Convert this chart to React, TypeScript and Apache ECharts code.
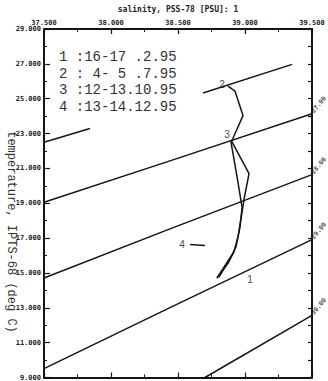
import React, { useEffect, useRef } from "react";
import * as echarts from "echarts";

const xTickLabels = ["37.500", "38.000", "38.500", "39.000", "39.500"];
const yTickLabels = ["9.000", "11.000", "13.000", "15.000", "17.000", "19.000", "21.000", "23.000", "25.000", "27.000", "29.000"];
const titleText = "salinity, PSS-78 [PSU]: 1";
const yName = "temperature, IPTS-68 (deg C)";
const legendLines = ["1 :16-17 .2.95", "2 : 4- 5 .7.95", "3 :12-13.10.95", "4 :13-14.12.95"];

// isopycnals (salinity, temperature)
const sigma26a = [[37.5, 22.5], [37.843, 23.29]];
const sigma26b = [[38.687, 25.33], [39.351, 26.97]];
const sigma27 = [[37.5, 19.06], [38.44, 21.43], [39.5, 24.14]];
const sigma28 = [[37.5, 14.71], [38.44, 17.53], [39.5, 20.64]];
const sigma29 = [[37.5, 9.51], [38.44, 13.01], [39.5, 16.91]];
const sigma30 = [[38.701, 9.0], [39.5, 12.56]];
const sigmaLabels = ["27.00", "28.00", "29.00", "30.00"];

// T-S profiles
const profile2 = [[38.873, 25.72], [38.925, 25.44], [38.985, 24.03], [38.91, 22.73], [38.896, 22.5], [38.948, 20.19], [38.978, 18.77], [38.963, 17.64], [38.933, 16.51], [38.91, 16.12], [38.791, 14.71]];
const profile3 = [[38.896, 22.62], [39.03, 20.7], [38.993, 19.23], [38.978, 18.49], [38.948, 17.08], [38.918, 16.23], [38.806, 14.76]];
const profile1 = [[38.791, 14.71], [38.873, 15.55], [38.918, 16.23]];
const arrow4 = [[38.59, 16.63], [38.701, 16.58]];
const profileMarks = [
  { name: "2", value: [38.828, 25.84] },
  { name: "3", value: [38.866, 22.95] },
  { name: "1", value: [39.037, 14.65] },
  { name: "4", value: [38.53, 16.63] },
];

const MONO = "DejaVu Sans Mono";
const INK = "#151515";

export default function App() {
  const ref = useRef<HTMLDivElement>(null);
  useEffect(() => {
    const chart = echarts.init(ref.current!, null, { renderer: "svg" });
    const line = (data: number[][]) => ({
      type: "line",
      data,
      symbol: "none",
      lineStyle: { color: INK, width: 1.5 },
      silent: true,
    });
    const axisLineStyle = { color: INK, width: 2 };
    const sigmaEnds = [sigma27, sigma28, sigma29, sigma30].map((s, i) => ({
      name: sigmaLabels[i],
      value: s[s.length - 1],
    }));
    chart.setOption({
      animation: false,
      backgroundColor: "#fff",
      grid: { left: 44, right: 16, top: 24, bottom: 3 },
      xAxis: [
        {
          type: "value",
          position: "top",
          min: 37.5,
          max: 39.5,
          interval: 0.5,
          axisLine: { show: true, lineStyle: axisLineStyle },
          axisTick: { show: true, inside: true, length: 5, lineStyle: { color: INK, width: 1.2 } },
          minorTick: { show: true, splitNumber: 2, length: 3, lineStyle: { color: INK, width: 1 } },
          splitLine: { show: false },
          axisLabel: {
            formatter: (v: number) => xTickLabels[Math.round((v - 37.5) / 0.5)] ?? "",
            fontFamily: MONO,
            fontSize: 7,
            fontWeight: "bold",
            color: "#222",
            margin: 3,
          },
          name: titleText,
          nameLocation: "middle",
          nameGap: 16,
          nameTextStyle: { fontFamily: MONO, fontSize: 8, fontWeight: "bold", color: "#222" },
        },
        {
          type: "value",
          position: "bottom",
          min: 37.5,
          max: 39.5,
          interval: 0.5,
          axisLine: { show: true, lineStyle: axisLineStyle },
          axisTick: { show: true, inside: true, length: 5, lineStyle: { color: INK, width: 1.2 } },
          minorTick: { show: true, splitNumber: 2, length: 3, lineStyle: { color: INK, width: 1 } },
          splitLine: { show: false },
          axisLabel: { show: false },
        },
      ],
      yAxis: [
        {
          type: "value",
          position: "left",
          min: 9,
          max: 29,
          interval: 2,
          axisLine: { show: true, lineStyle: axisLineStyle },
          axisTick: { show: true, inside: true, length: 6, lineStyle: { color: INK, width: 1.2 } },
          minorTick: { show: true, splitNumber: 2, length: 3, lineStyle: { color: INK, width: 1 } },
          splitLine: { show: false },
          axisLabel: {
            formatter: (v: number) => yTickLabels[Math.round((v - 9) / 2)] ?? "",
            fontFamily: MONO,
            fontSize: 7,
            fontWeight: "bold",
            color: "#222",
            margin: 3,
          },
        },
        {
          type: "value",
          position: "right",
          min: 9,
          max: 29,
          interval: 1,
          axisLine: { show: true, lineStyle: axisLineStyle },
          axisTick: { show: true, inside: true, length: 4, lineStyle: { color: INK, width: 1.2 } },
          splitLine: { show: false },
          axisLabel: { show: false },
        },
      ],
      series: [
        line(sigma26a),
        line(sigma26b),
        line(sigma27),
        line(sigma28),
        line(sigma29),
        line(sigma30),
        line(profile2),
        line(profile3),
        line(profile1),
        line(arrow4),
        {
          type: "scatter",
          data: sigmaEnds,
          symbolSize: 1,
          itemStyle: { color: "rgba(0,0,0,0)" },
          label: {
            show: true,
            formatter: (p: any) => p.name,
            position: [1, -1],
            rotate: 50,
            align: "left",
            verticalAlign: "middle",
            fontFamily: MONO,
            fontSize: 6.5,
            fontWeight: "bold",
            color: "#222",
          },
          silent: true,
        },
        {
          type: "scatter",
          data: profileMarks,
          symbolSize: 1,
          itemStyle: { color: "rgba(0,0,0,0)" },
          label: {
            show: true,
            formatter: (p: any) => p.name,
            position: "inside",
            fontFamily: "Liberation Sans",
            fontSize: 10,
            color: "#111",
          },
          silent: true,
        },
      ],
      graphic: [
        ...legendLines.map((t, i) => ({
          type: "text",
          x: 59,
          y: 57 + i * 16.5,
          style: {
            text: t,
            fontFamily: "Liberation Mono",
            fontSize: 14,
            fill: "#333",
            verticalAlign: "middle",
            align: "left",
          },
        })),
        {
          type: "text",
          x: 11,
          y: 232,
          rotation: -Math.PI / 2,
          style: {
            text: yName,
            fontFamily: "Liberation Mono",
            fontSize: 12,
            fill: "#333",
            align: "center",
            verticalAlign: "middle",
          },
        },
      ],
    });
    return () => chart.dispose();
  }, []);
  return (
    <div
      ref={ref}
      style={{ position: "fixed", left: 0, top: 0, width: 328, height: 381, background: "#fff" }}
    />
  );
}
